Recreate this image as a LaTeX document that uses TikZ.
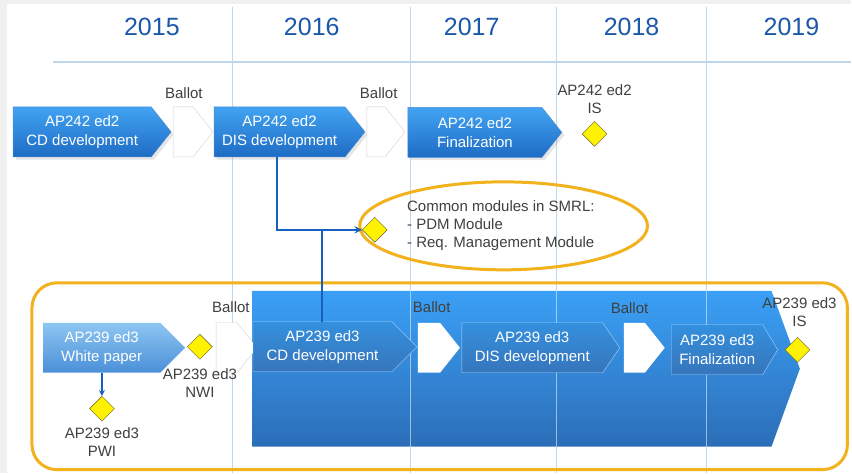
\documentclass[tikz,border=0pt]{standalone}
\usepackage{fontspec}
\setmainfont{Liberation Sans}
\usepackage{tikz}
\usetikzlibrary{shapes,shapes.symbols,shapes.geometric,positioning,calc,shadows}
\definecolor{yearblue}{RGB}{28,88,170}
\definecolor{gridblue}{RGB}{190,215,235}
\definecolor{boxtop}{RGB}{66,163,242}
\definecolor{boxbot}{RGB}{30,108,196}
\definecolor{bigtop}{RGB}{58,160,246}
\definecolor{bigbot}{RGB}{44,110,184}
\definecolor{papertop}{RGB}{142,198,242}
\definecolor{paperbot}{RGB}{74,143,216}
\definecolor{gold}{RGB}{242,178,30}
\definecolor{linkblue}{RGB}{24,96,190}
\definecolor{txtgray}{RGB}{64,64,64}

\begin{document}
\begin{tikzpicture}[x=1pt, y=-1pt, >=stealth, thick]
  \tikzstyle{phase} = [signal, signal to=east, signal pointer angle=103, anchor=west, inner sep=0pt, minimum height=50pt, align=center, text=white, top color=boxtop, bottom color=boxbot, draw=boxbot!80, thin, font=\fontsize{15}{19}\selectfont]
  \tikzstyle{ballot} = [signal, signal to=east, signal pointer angle=103, anchor=west, inner sep=0pt, minimum height=50pt, fill=white, draw=gray!35, thin]
  \tikzstyle{subphase} = [phase, top color=bigtop!90!black, bottom color=bigbot!95!white, draw=white!55!bigtop]
  \tikzstyle{milestone} = [diamond, draw=olive!60!black, fill=yellow, thin, inner sep=0pt, minimum width=25pt, minimum height=25pt]
  \tikzstyle{lbl} = [align=center, text=txtgray, inner sep=0pt, font=\fontsize{15}{18}\selectfont]
  \tikzstyle{year} = [text=yearblue, font=\fontsize{25}{30}\selectfont]
  \tikzstyle{link} = [draw=linkblue, line width=2.3pt]

  % frame
  \fill[gray!12] (0,0) rectangle (852,473);
  \fill[white] (7,4) rectangle (852,473);

  % time grid
  \foreach \gx in {233,411,557,707}
    \draw[gridblue, line width=0.8pt] (\gx,7) -- (\gx,473);
  \draw[gridblue, line width=1.2pt] (53,62) -- (852,62);

  % years
  \node[year] (y15) at (152,27) {2015};
  \node[year] (y16) at (312,27) {2016};
  \node[year] (y17) at (472,27) {2017};
  \node[year] (y18) at (632,27) {2018};
  \node[year] (y19) at (792,27) {2019};

  % AP242 ed2
  \node[phase, minimum width=158pt, drop shadow={opacity=0.2}] (cd242) at (13,132) {AP242 ed2\\CD development};
  \node[ballot, minimum width=40pt] (bal1) at (173,132) {};
  \node[phase, minimum width=151pt, drop shadow={opacity=0.2}] (dis242) at (214,132) {AP242 ed2\\DIS development};
  \node[ballot, minimum width=38pt] (bal2) at (367,132) {};
  \node[phase, minimum width=154pt, drop shadow={opacity=0.2}] (fin242) at (408,132.5) {AP242 ed2\\Finalization};
  \node[lbl] (bl1) at (184,93) {Ballot};
  \node[lbl] (bl2) at (379,93) {Ballot};
  \node[milestone] (is242) at (595,134) {};
  \node[lbl, above=7pt of is242] (is242t) {AP242 ed2\\IS};

  % SMRL
  \node[ellipse, draw=gold, line width=3pt, minimum width=288pt, minimum height=88pt] (smrlbox) at (504,226) {};
  \node[lbl, align=left, anchor=west] (smrlt) at (407,226) {Common modules in SMRL:\\- PDM Module\\- Req. Management Module};
  \node[milestone] (smrl) at (375,230) {};

  % AP239 ed3
  \draw[gold, line width=3pt, rounded corners=25pt] (32,283) rectangle (848,470);
  \node[signal, signal to=east, signal pointer angle=140, anchor=west, inner sep=0pt, minimum width=548pt, minimum height=156pt, top color=bigtop, bottom color=bigbot] (big239) at (252,369) {};
  \foreach \gx in {411,557,707}
    \draw[white!60!gridblue, opacity=0.6, line width=0.8pt] (\gx,291) -- (\gx,447);

  \node[phase, signal pointer angle=90, minimum width=142pt, top color=papertop, bottom color=paperbot, draw=none] (wp239) at (43,348) {AP239 ed3\\White paper};
  \node[milestone] (nwi) at (200,347) {};
  \node[ballot, minimum width=41pt] (bal3) at (216,348) {};
  \node[subphase, signal pointer angle=90, minimum width=164pt] (cd239) at (253,347) {AP239 ed3\\CD development};
  \node[ballot, minimum width=42pt, draw=none] (bal4) at (418,348) {};
  \node[subphase, signal pointer angle=111, minimum width=158pt] (dis239) at (462,348) {AP239 ed3\\DIS development};
  \node[ballot, minimum width=41pt, draw=none] (bal5) at (624,348) {};
  \node[subphase, signal pointer angle=118, minimum width=106pt] (fin239) at (672,350) {AP239 ed3\\Finalization};
  \node[milestone] (is239) at (798,350) {};
  \node[milestone] (pwi) at (102,409) {};

  \node[lbl] (bl3) at (231,307) {Ballot};
  \node[lbl] (bl4) at (432,307) {Ballot};
  \node[lbl] (bl5) at (630,308) {Ballot};
  \node[lbl] (is239t) at (800,312) {AP239 ed3\\IS};
  \node[lbl, below=9pt of nwi] (nwit) {AP239 ed3\\NWI};
  \node[lbl, below=6pt of pwi] (pwit) {AP239 ed3\\PWI};

  % links
  \coordinate (turn) at (277,230);
  \coordinate (fork) at (322,230);
  \draw[link, ->] (turn |- dis242.south) -- (turn) -- (smrl.west);
  \draw[link] (fork) -- (fork |- cd239.north);
  \draw[link, line width=1.6pt, ->] (pwi.north |- wp239.south) -- (pwi.north);
\end{tikzpicture}
\end{document}
